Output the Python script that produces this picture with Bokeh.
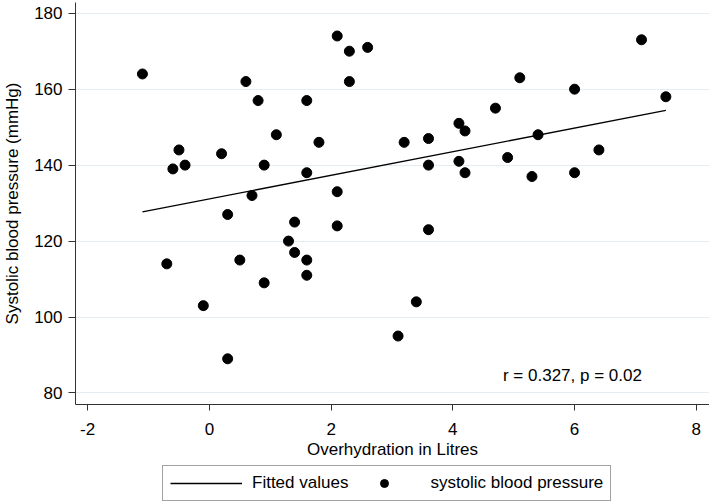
from bokeh.plotting import figure
from bokeh.layouts import column
from bokeh.models import Range1d, FixedTicker, Label, Legend, LegendItem
from bokeh.embed import file_html
from bokeh.resources import INLINE

# ---- data ----
overhydration = [-1.1, -0.7, -0.6, -0.5, -0.4, -0.1, 0.2, 0.3, 0.3, 0.5,
                 0.6, 0.7, 0.8, 0.9, 0.9, 1.1, 1.3, 1.4, 1.4, 1.6,
                 1.6, 1.6, 1.6, 1.8, 2.1, 2.1, 2.1, 2.3, 2.3, 2.6,
                 3.1, 3.2, 3.4, 3.6, 3.6, 3.6, 4.1, 4.1, 4.2, 4.2,
                 4.7, 4.9, 5.1, 5.3, 5.4, 6.0, 6.0, 6.4, 7.1, 7.5]
systolic = [164, 114, 139, 144, 140, 103, 143, 127, 89, 115,
            162, 132, 157, 140, 109, 148, 120, 125, 117, 157,
            138, 115, 111, 146, 174, 133, 124, 170, 162, 171,
            95, 146, 104, 147, 140, 123, 151, 141, 149, 138,
            155, 142, 163, 137, 148, 160, 138, 144, 173, 158]
fit_x = [-1.1, 7.5]
fit_y = [127.7, 154.4]
x_ticks = [-2, 0, 2, 4, 6, 8]
x_tick_labels = ["-2", "0", "2", "4", "6", "8"]
y_ticks = [80, 100, 120, 140, 160, 180]
x_title = "Overhydration in Litres"
y_title = "Systolic blood pressure (mmHg)"
fit_label = "Fitted values"
point_label = "systolic blood pressure"
stats_text = "r = 0.327, p = 0.02"

FONT = "Liberation Sans"
FS = "17px"
AX = "#333333"

p = figure(width=709, height=462, output_backend="svg", toolbar_location=None,
           x_range=Range1d(-2.20, 8.217), y_range=Range1d(76.97, 182.82),
           min_border_left=70, min_border_right=0, min_border_top=2,
           min_border_bottom=58, background_fill_color="white",
           border_fill_color="white")
p.outline_line_color = None
p.xgrid.visible = False
p.ygrid.grid_line_color = "#e4edf1"
p.ygrid.grid_line_width = 1

for ax in (p.xaxis[0], p.yaxis[0]):
    ax.axis_line_color = AX
    ax.major_tick_line_color = AX
    ax.minor_tick_line_color = None
    ax.major_tick_in = 0
    ax.major_label_text_font = FONT
    ax.major_label_text_font_size = FS
    ax.major_label_text_color = "black"
    ax.axis_label_text_font = FONT
    ax.axis_label_text_font_size = FS
    ax.axis_label_text_font_style = "normal"
    ax.axis_label_text_color = "black"

p.xaxis.ticker = FixedTicker(ticks=x_ticks)
p.xaxis.major_label_overrides = dict(zip(x_ticks, x_tick_labels))
p.yaxis.ticker = FixedTicker(ticks=y_ticks)
p.xaxis.axis_label = x_title
p.yaxis.axis_label = y_title
p.xaxis.major_tick_out = 6
p.yaxis.major_tick_out = 7
p.xaxis.major_label_standoff = 12
p.yaxis.major_label_standoff = 6
p.xaxis.axis_label_standoff = 2
p.yaxis.axis_label_standoff = 9

r_fit = p.line(fit_x, fit_y, line_color="black", line_width=1.3)
r_pts = p.scatter(overhydration, systolic, size=10, marker="circle",
                  fill_color="black", line_color="black")

p.add_layout(Label(x=5.965, y=84.6, text=stats_text, text_align="center",
                   text_baseline="middle", text_font=FONT,
                   text_font_size=FS, text_color="black"))

# ---- legend strip below the chart (its ranges keep the key glyphs' data off-view) ----
lg = figure(width=709, height=41, output_backend="svg", toolbar_location=None,
            x_axis_location=None, y_axis_location=None,
            x_range=Range1d(100, 101), y_range=Range1d(0, 1),
            min_border_left=70, min_border_right=0, min_border_top=0,
            min_border_bottom=0, background_fill_color="white",
            border_fill_color="white")
lg.outline_line_color = None
lg.grid.visible = False
k_fit = lg.line(fit_x, fit_y, line_color="black", line_width=1.3)
k_pts = lg.scatter(overhydration, systolic, size=10, marker="circle",
                   fill_color="black", line_color="black")
legend = Legend(items=[LegendItem(label=fit_label, renderers=[k_fit]),
                       LegendItem(label=point_label, renderers=[k_pts])],
                orientation="horizontal", location=(87, 2),
                glyph_width=72, glyph_height=20, label_standoff=10,
                spacing=0, padding=7, margin=0,
                label_text_font=FONT, label_text_font_size=FS,
                label_text_color="black",
                border_line_color="#444444", border_line_width=1,
                background_fill_color="white", background_fill_alpha=1)
lg.add_layout(legend)

layout = column(p, lg, spacing=0)
open("out.html", "w").write(file_html(layout, INLINE))
